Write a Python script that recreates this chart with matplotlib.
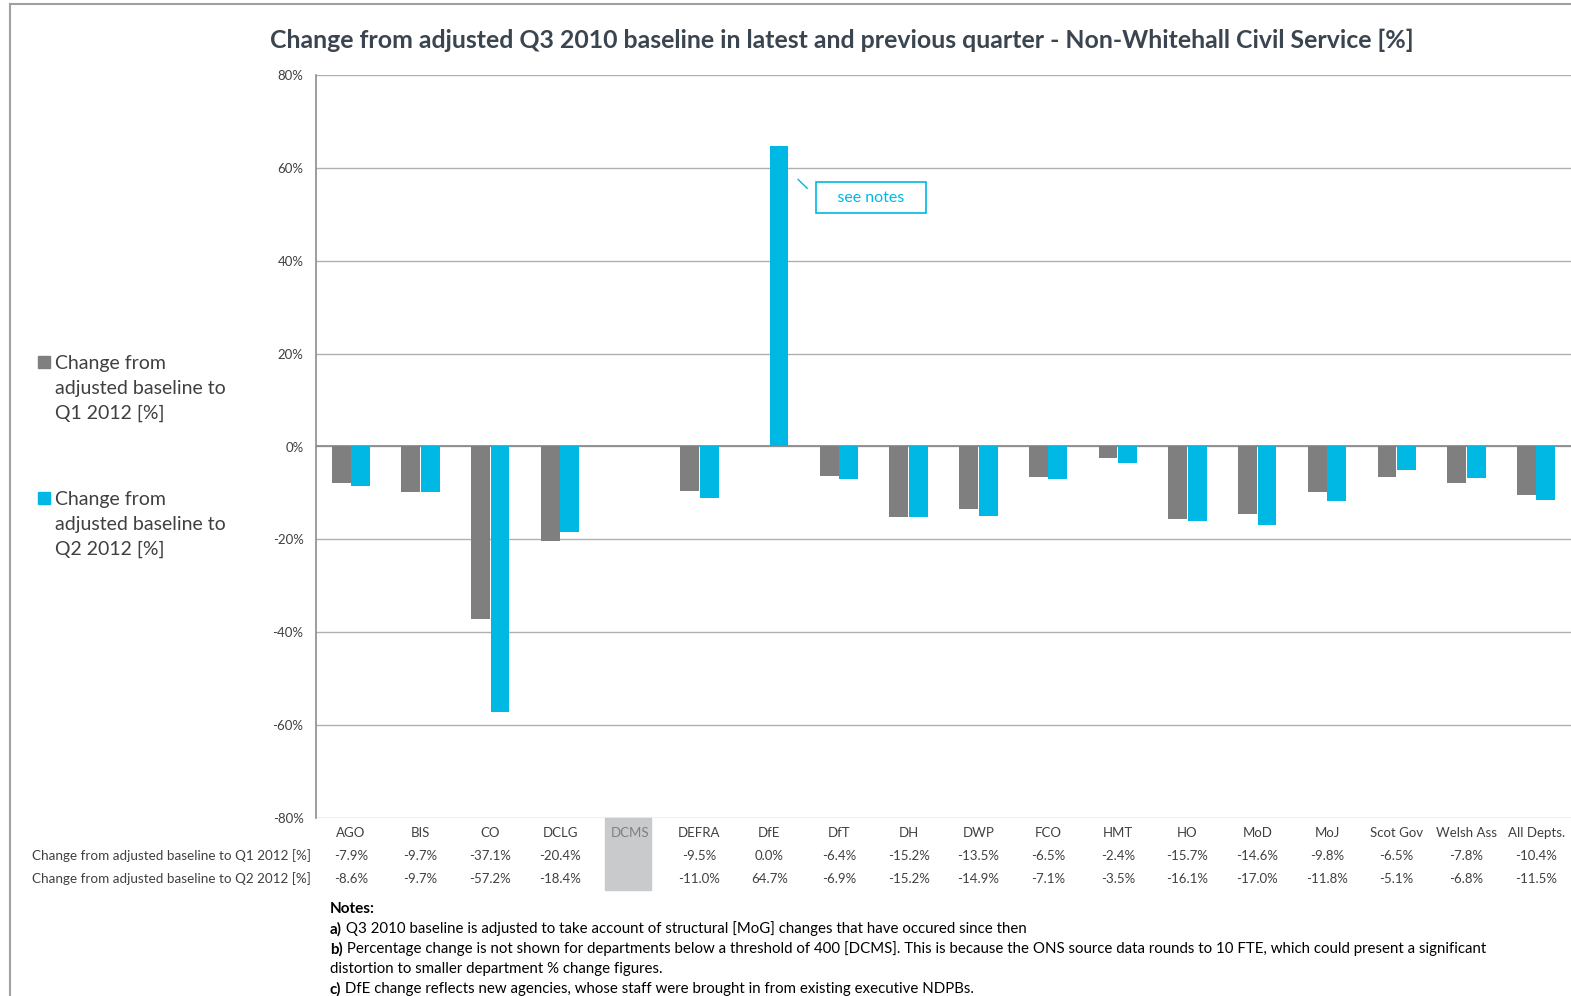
import numpy as np
import matplotlib
matplotlib.use('Agg')
import matplotlib.pyplot as plt
from matplotlib.lines import Line2D
from matplotlib.patches import Rectangle

# Data
departments = ['AGO', 'BIS', 'CO', 'DCLG', 'DCMS', 'DEFRA', 'DfE', 'DfT', 'DH', 'DWP',
               'FCO', 'HMT', 'HO', 'MoD', 'MoJ', 'Scot Gov', 'Welsh Ass', 'All Depts.']
q1_2012 = [-7.9, -9.7, -37.1, -20.4, np.nan, -9.5, 0.0, -6.4, -15.2, -13.5,
           -6.5, -2.4, -15.7, -14.6, -9.8, -6.5, -7.8, -10.4]
q2_2012 = [-8.6, -9.7, -57.2, -18.4, np.nan, -11.0, 64.7, -6.9, -15.2, -14.9,
           -7.1, -3.5, -16.1, -17.0, -11.8, -5.1, -6.8, -11.5]
series_names = ['Change from adjusted baseline to Q1 2012 [%]',
                'Change from adjusted baseline to Q2 2012 [%]']
yticks = [-80, -60, -40, -20, 0, 20, 40, 60, 80]

GREY = '#7f7f7f'
CYAN = '#00b8e4'
TXT = '#404040'

plt.rcParams['font.family'] = ['Lato', 'DejaVu Sans']

W, H = 1571, 996
fig = plt.figure(figsize=(W / 100, H / 100), dpi=100)

# axes placed by pixel box
ax_l, ax_t, ax_r, ax_b = 316, 75, 1571, 818
ax = fig.add_axes([ax_l / W, 1 - ax_b / H, (ax_r - ax_l) / W, (ax_b - ax_t) / H])

x = np.arange(len(departments))
ax.bar(x - 0.14, q1_2012, 0.27, color=GREY, zorder=3)
ax.bar(x + 0.14, q2_2012, 0.27, color=CYAN, zorder=3)

ax.set_xlim(-0.5, len(departments) - 0.5)
ax.set_ylim(-80, 80)
ax.set_yticks(yticks)
ax.set_yticklabels([f'{v}%' for v in yticks], fontsize=9.5, color=TXT)
ax.tick_params(axis='y', length=0, pad=9)
ax.grid(axis='y', color='#b0b0b0', lw=1, zorder=0)
ax.axhline(0, color='#8c8c8c', lw=1.3, zorder=2)
ax.set_xticks([])
for s in ['top', 'right', 'bottom']:
    ax.spines[s].set_visible(False)
ax.spines['left'].set_color('#8c8c8c')
ax.spines['left'].set_linewidth(1.2)

# data table under the chart
xt = ax.get_xaxis_transform()
def ypos(py):
    return (ax_b - py) / (ax_b - ax_t)

dcms = departments.index('DCMS')
ax.add_patch(Rectangle((dcms - 0.35, ypos(890)), 0.66, ypos(818) - ypos(890),
                       transform=xt, color='#c8cacb', clip_on=False, zorder=1))
for i, d in enumerate(departments):
    ax.text(i, ypos(833), d, transform=xt, ha='center', va='center',
            fontsize=9.5, color=GREY if d == 'DCMS' else TXT)
    for row, vals in zip([856, 879], [q1_2012, q2_2012]):
        v = vals[i]
        if not np.isnan(v):
            ax.text(i, ypos(row), f'{v:.1f}%', transform=xt, ha='center', va='center',
                    fontsize=9.5, color=TXT)
for row, name in zip([856, 879], series_names):
    fig.text(311 / W, 1 - row / H, name, ha='right', va='center', fontsize=9.75, color=TXT)

# title
fig.text(842 / W, 1 - 40 / H, 'Change from adjusted Q3 2010 baseline in latest and previous quarter - Non-Whitehall Civil Service [%]',
         ha='center', va='center', fontsize=17.9, fontweight='bold', color='#3a4550')

# legend at left
for col, ytop, label in [(GREY, 362, 'Change from\nadjusted baseline to\nQ1 2012 [%]'),
                         (CYAN, 498, 'Change from\nadjusted baseline to\nQ2 2012 [%]')]:
    fig.patches.append(Rectangle((38 / W, 1 - (ytop + 6) / H), 12 / W, 12 / H,
                                 transform=fig.transFigure, color=col))
    fig.text(55 / W, 1 - (ytop - 7) / H, label, ha='left', va='top', fontsize=14,
             color=TXT, linespacing=1.57)

# callout for DfE
dfe = departments.index('DfE')
ax.plot([dfe + 0.415, dfe + 0.545], [57.5, 55.6], color=CYAN, lw=1, zorder=4)
ax.text(dfe + 1.46, 53.6, '   see notes   ', ha='center', va='center', fontsize=11.5, color=CYAN,
        bbox=dict(boxstyle='square,pad=0.55', fc='white', ec=CYAN, lw=1.2), zorder=4)

# notes
notes = [
    ('a)', ' Q3 2010 baseline is adjusted to take account of structural [MoG] changes that have occured since then'),
    ('b)', ' Percentage change is not shown for departments below a threshold of 400 [DCMS]. This is because the ONS source data rounds to 10 FTE, which could present a significant'),
    ('', 'distortion to smaller department % change figures.'),
    ('c)', ' DfE change reflects new agencies, whose staff were brought in from existing executive NDPBs.'),
]
fig.text(330 / W, 1 - 909 / H, 'Notes:', ha='left', va='center', fontsize=11,
         fontweight='bold', color='black')
for k, (lead, body) in enumerate(notes):
    yy = 1 - (929 + 20 * k) / H
    t = fig.text(330 / W, yy, lead, ha='left', va='center', fontsize=10.9,
                 fontweight='bold', color='black')
    fig.canvas.draw()
    bb = t.get_window_extent()
    x0 = bb.x1 / W if lead else 330 / W
    fig.text(x0, yy, body, ha='left', va='center', fontsize=10.8, color='black')

# outer frame
fig.add_artist(Line2D([10 / W, 10 / W], [0, 1 - 4 / H], transform=fig.transFigure,
                      color='#a0a0a0', lw=1.5))
fig.add_artist(Line2D([10 / W, 1], [1 - 4 / H, 1 - 4 / H], transform=fig.transFigure,
                      color='#a0a0a0', lw=1.5))

fig.savefig('out.png', dpi=100)
